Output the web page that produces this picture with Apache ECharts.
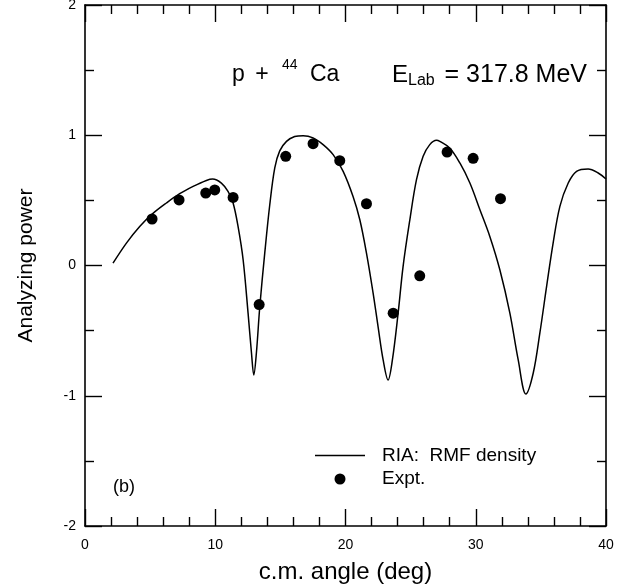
<!DOCTYPE html>
<html>
<head>
<meta charset="utf-8">
<script src="https://cdn.jsdelivr.net/npm/echarts@6/dist/echarts.min.js"></script>
<style>
  html, body { margin: 0; padding: 0; background: #fff; }
  #chart { width: 642px; height: 587px; }
</style>
</head>
<body>
<div id="chart"></div>
<script>
// RIA calculation (RMF density)
var curveX = [2.15, 3.18, 4.2, 5.22, 6.25, 7.27, 8.3, 9.32, 9.8, 10.47, 10.98, 11.37, 11.75, 12.14, 12.52,
  12.78, 12.96, 13.16, 13.42, 13.8, 14.19, 14.57, 14.95, 15.47, 16.1, 16.75, 17.51, 18.28, 19.05, 19.82,
  20.58, 21.1, 21.61, 22.12, 22.5, 22.89, 23.27, 23.6, 24.04, 24.42, 24.94, 25.45, 25.96, 26.47, 26.99,
  27.24, 28.0, 28.78, 29.55, 30.32, 31.08, 31.85, 32.62, 33.26, 33.85, 34.41, 34.92, 35.44, 35.94, 36.46,
  37.1, 37.74, 38.63, 39.4, 40.0];
var curveY = [0.018, 0.172, 0.30, 0.40, 0.48, 0.551, 0.607, 0.653, 0.664, 0.633, 0.569, 0.48, 0.30, 0.044, -0.366,
  -0.67, -0.84, -0.67, -0.315, 0.095, 0.47, 0.75, 0.88, 0.953, 0.99, 0.997, 0.98, 0.928, 0.851, 0.723,
  0.53, 0.351, 0.095, -0.212, -0.469, -0.725, -0.879, -0.725, -0.366, -0.008, 0.351, 0.659, 0.838, 0.928, 0.961,
  0.953, 0.902, 0.787, 0.633, 0.428, 0.223, -0.033, -0.366, -0.725, -0.986, -0.827, -0.52, -0.161, 0.172, 0.454,
  0.633, 0.723, 0.741, 0.71, 0.664];

// experimental points
var expX = [5.15, 7.22, 9.27, 9.96, 11.37, 13.37, 15.41, 17.51, 19.56, 21.61, 23.66, 25.7, 27.8, 29.8, 31.9];
var expY = [0.357, 0.503, 0.556, 0.58, 0.523, -0.30, 0.838, 0.935, 0.805, 0.474, -0.366, -0.079, 0.871, 0.823, 0.513];

var lineName = "RIA:  RMF density";
var expName = "Expt.";

var font = "'Liberation Sans', Arial, Helvetica, sans-serif";
var black = "#000";

function zip(xs, ys) {
  return xs.map(function (x, i) { return [x, ys[i]]; });
}

function axisBase(min, max, interval, minorSplit) {
  return {
    type: "value",
    min: min,
    max: max,
    interval: interval,
    axisLine: { show: true, onZero: false, lineStyle: { color: black, width: 1.6 } },
    axisTick: { show: true, inside: true, length: 17, lineStyle: { color: black, width: 1.4 } },
    minorTick: { show: true, splitNumber: minorSplit, length: 9, lineStyle: { color: black, width: 1.4 } },
    splitLine: { show: false },
    minorSplitLine: { show: false }
  };
}

var xBottom = Object.assign(axisBase(0, 40, 10, 5), {
  position: "bottom",
  name: "c.m. angle (deg)",
  nameLocation: "middle",
  nameGap: 34,
  nameTextStyle: { fontFamily: font, fontSize: 24, color: black },
  axisLabel: { margin: 12, fontFamily: font, fontSize: 14, color: black }
});
var xTop = Object.assign(axisBase(0, 40, 10, 5), {
  position: "top",
  axisLabel: { show: false }
});
var yLeft = Object.assign(axisBase(-2, 2, 1, 2), {
  position: "left",
  name: "Analyzing power",
  nameLocation: "middle",
  nameGap: 48,
  nameTextStyle: { fontFamily: font, fontSize: 21, color: black },
  axisLabel: { margin: 9, fontFamily: font, fontSize: 14, color: black }
});
var yRight = Object.assign(axisBase(-2, 2, 1, 2), {
  position: "right",
  axisLabel: { show: false }
});

var chart = echarts.init(document.getElementById("chart"), null, { renderer: "canvas" });

var option = {
  backgroundColor: "#fff",
  animation: false,
  textStyle: { fontFamily: font },
  grid: { left: 85, right: 36, top: 5, bottom: 61, containLabel: false, outerBoundsMode: "none" },
  xAxis: [xBottom, xTop],
  yAxis: [yLeft, yRight],
  legend: {
    orient: "vertical",
    left: 310,
    top: 441,
    itemWidth: 50,
    itemHeight: 11,
    itemGap: 4.5,
    data: [
      { name: lineName, icon: "path://M0,0L50,0L50,1.5L0,1.5Z" },
      { name: expName }
    ],
    textStyle: { fontFamily: font, fontSize: 19, color: black, padding: [0, 0, 0, 12] }
  },
  graphic: [
    { type: "text", x: 232, y: 75, style: { text: "p", font: "23px " + font, fill: black, verticalAlign: "middle" } },
    { type: "text", x: 262, y: 75, style: { text: "+", font: "23px " + font, fill: black, align: "center", verticalAlign: "middle" } },
    { type: "text", x: 282, y: 65, style: { text: "44", font: "14px " + font, fill: black, verticalAlign: "middle" } },
    { type: "text", x: 310, y: 75, style: { text: "Ca", font: "23px " + font, fill: black, verticalAlign: "middle" } },
    { type: "text", x: 392, y: 75, style: { text: "E", font: "24px " + font, fill: black, verticalAlign: "middle" } },
    { type: "text", x: 408, y: 81, style: { text: "Lab", font: "16px " + font, fill: black, verticalAlign: "middle" } },
    { type: "text", x: 587, y: 75, style: { text: "= 317.8 MeV", font: "25px " + font, fill: black, align: "right", verticalAlign: "middle" } },
    { type: "text", x: 113, y: 487, style: { text: "(b)", font: "18px " + font, fill: black, verticalAlign: "middle" } }
  ],
  series: [
    {
      name: lineName,
      type: "line",
      xAxisIndex: 0,
      yAxisIndex: 0,
      data: zip(curveX, curveY),
      showSymbol: false,
      symbol: "none",
      smooth: 0.35,
      lineStyle: { color: black, width: 1.5 },
      itemStyle: { color: black },
      z: 3
    },
    {
      name: expName,
      type: "scatter",
      xAxisIndex: 0,
      yAxisIndex: 0,
      data: zip(expX, expY),
      symbol: "circle",
      symbolSize: 11,
      itemStyle: { color: black, opacity: 1 },
      z: 4
    }
  ]
};

chart.setOption(option);
</script>
</body>
</html>
